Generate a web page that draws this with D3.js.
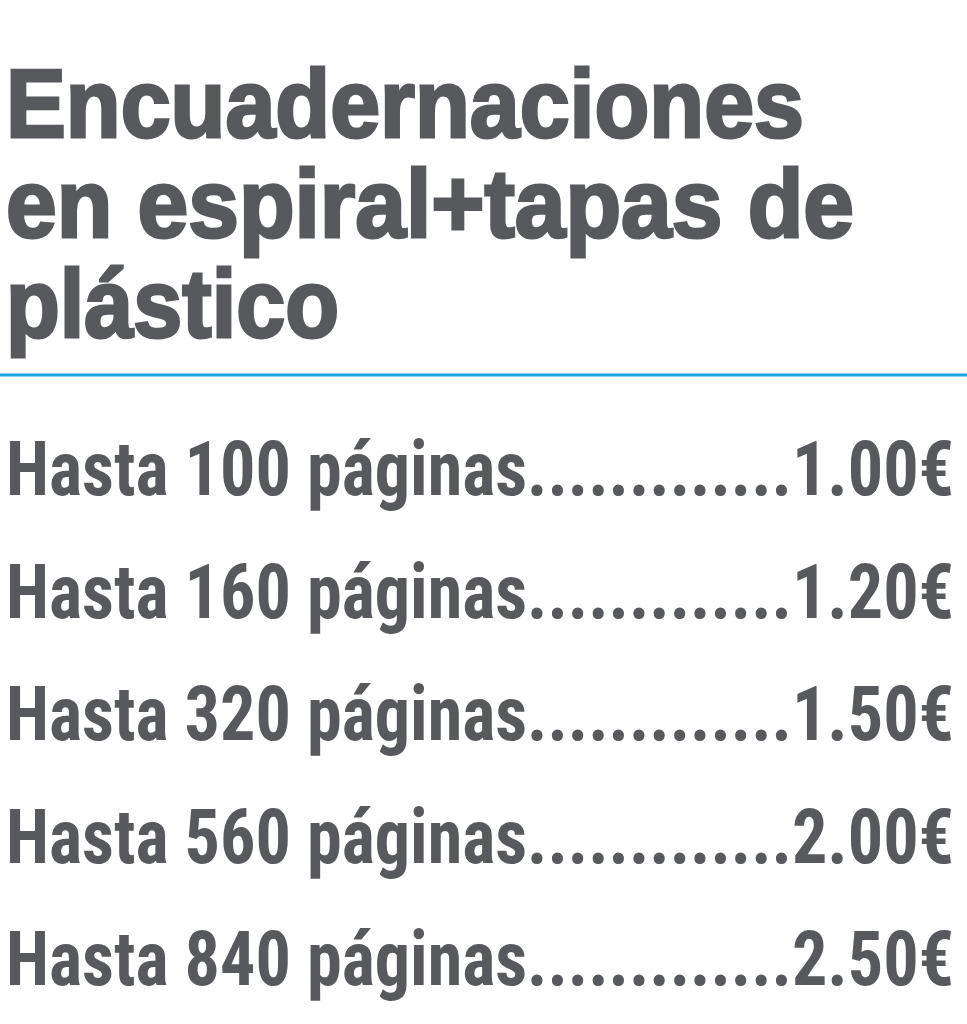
<!DOCTYPE html>
<html>
<head>
<script src="https://d3js.org/d3.v7.min.js"></script>
<style>
body { margin: 0; background: #fff; }
</style>
</head>
<body>
<svg id="root" width="967" height="1024"></svg>
<script>
let titleLines = ['Encuadernaciones', 'en espiral+tapas de', 'plástico']
let titleWidths = [798, 848, 333]
let pages = [100, 160, 320, 560, 840]
let prices = [1.00, 1.20, 1.50, 2.00, 2.50]

let svg = d3.select('#root')
let grey = '#57595c'

let ty = d3.scalePoint().domain(d3.range(titleLines.length)).range([137, 337])
svg.selectAll('.title').data(titleLines).enter().append('text')
	.attr('class', 'title')
	.attr('x', 6)
	.attr('y', (d, i) => ty(i))
	.attr('textLength', (d, i) => titleWidths[i])
	.attr('lengthAdjust', 'spacingAndGlyphs')
	.style('font-family', 'Liberation Sans, Arial, sans-serif')
	.style('font-weight', 'bold')
	.style('font-size', '96px')
	.style('fill', grey)
	.style('stroke', grey)
	.style('stroke-width', 3)
	.text(d => d)

svg.append('line')
	.attr('x1', 0).attr('x2', 967)
	.attr('y1', 375).attr('y2', 375)
	.style('stroke', '#1ba3df').style('stroke-width', 3)

let ry = d3.scalePoint().domain(pages).range([495, 985])
svg.selectAll('.row').data(pages).enter().append('text')
	.attr('class', 'row')
	.attr('x', 6)
	.attr('y', d => ry(d))
	.attr('textLength', 948)
	.attr('lengthAdjust', 'spacingAndGlyphs')
	.style('font-family', 'Liberation Sans Narrow, Roboto Condensed, Roboto, sans-serif')
	.style('font-weight', 'bold')
	.style('font-size', '76px')
	.style('fill', grey)
	.text((d, i) => 'Hasta ' + d + ' páginas.............' + prices[i].toFixed(2) + '€')
</script>
</body>
</html>
